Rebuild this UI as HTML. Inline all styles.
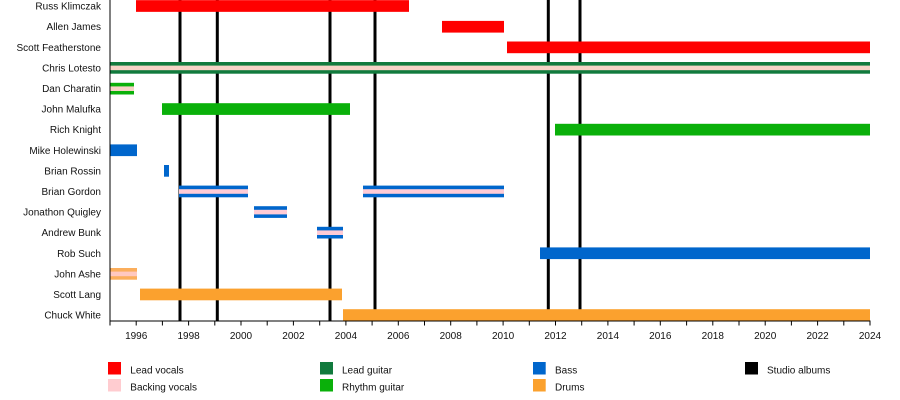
<!DOCTYPE html>
<html>
<head>
<meta charset="utf-8">
<style>
  html,body{margin:0;padding:0;background:#fff;}
  svg{display:block;}
  text{font-family:"Liberation Sans", Arial, sans-serif;font-size:10px;fill:#111;}
</style>
</head>
<body>
<svg width="900" height="400" viewBox="0 0 900 400" xmlns="http://www.w3.org/2000/svg">
  <rect width="900" height="400" fill="#fff"/>

  <!-- studio album lines (behind bars) -->
  <g fill="#000">
    <rect x="178.5" y="0" width="3" height="321"/>
    <rect x="215.8" y="0" width="3" height="321"/>
    <rect x="328.5" y="0" width="3" height="321"/>
    <rect x="373.5" y="0" width="3" height="321"/>
    <rect x="546.8" y="0" width="3" height="321"/>
    <rect x="578.5" y="0" width="3" height="321"/>
  </g>

  <!-- bars -->
  <!-- Russ Klimczak c=6 -->
  <rect x="136" y="0.15" width="273" height="11.7" fill="#FF0000"/>
  <!-- Allen James c=26.6 -->
  <rect x="442" y="20.9" width="62" height="11.7" fill="#FF0000"/>
  <!-- Scott Featherstone c=47.2 -->
  <rect x="507" y="41.5" width="363" height="11.7" fill="#FF0000"/>
  <!-- Chris Lotesto c=67.8 -->
  <rect x="110" y="62.0" width="760" height="11.7" fill="#117A3D"/>
  <rect x="110" y="65.6" width="760" height="4.6" fill="#F6D3C6"/>
  <!-- Dan Charatin c=88.4 -->
  <rect x="110" y="82.8" width="24" height="11.7" fill="#0AB00A"/>
  <rect x="110" y="86.4" width="24" height="4.6" fill="#F6D3C6"/>
  <!-- John Malufka c=109 -->
  <rect x="162" y="103.2" width="188" height="11.7" fill="#0AB00A"/>
  <!-- Rich Knight c=129.6 -->
  <rect x="555" y="123.8" width="315" height="11.7" fill="#0AB00A"/>
  <!-- Mike Holewinski c=150.2 -->
  <rect x="110" y="144.4" width="27" height="11.7" fill="#0066CC"/>
  <!-- Brian Rossin c=170.8 -->
  <rect x="164" y="165.0" width="5" height="11.7" fill="#0066CC"/>
  <!-- Brian Gordon c=191.4 -->
  <rect x="179" y="185.6" width="69" height="11.7" fill="#0066CC"/>
  <rect x="179" y="189.2" width="69" height="4.6" fill="#FFCCD6"/>
  <rect x="363" y="185.6" width="141" height="11.7" fill="#0066CC"/>
  <rect x="363" y="189.2" width="141" height="4.6" fill="#FFCCD6"/>
  <!-- Jonathon Quigley c=212 -->
  <rect x="254" y="206.2" width="33" height="11.7" fill="#0066CC"/>
  <rect x="254" y="209.8" width="33" height="4.6" fill="#FFCCD6"/>
  <!-- Andrew Bunk c=232.6 -->
  <rect x="317" y="226.8" width="26" height="11.7" fill="#0066CC"/>
  <rect x="317" y="230.4" width="26" height="4.6" fill="#FFCCD6"/>
  <!-- Rob Such c=253.2 -->
  <rect x="540" y="247.4" width="330" height="11.7" fill="#0066CC"/>
  <!-- John Ashe c=273.8 -->
  <rect x="110" y="268.0" width="27" height="11.7" fill="#FBAE5C"/>
  <rect x="110" y="271.6" width="27" height="4.6" fill="#FFC8C0"/>
  <!-- Scott Lang c=294.4 -->
  <rect x="140" y="288.6" width="202" height="11.7" fill="#FBA12E"/>
  <!-- Chuck White c=315 -->
  <rect x="343" y="309.2" width="527" height="11.7" fill="#FBA12E"/>

  <!-- axes -->
  <rect x="109.5" y="0" width="1" height="321.5" fill="#000"/>
  <rect x="109.5" y="320.5" width="761" height="1" fill="#000"/>
  <g stroke="#000" stroke-width="1">
    <line x1="110" y1="321" x2="110" y2="325.5"/>
    <line x1="136.2" y1="321" x2="136.2" y2="325.5"/>
    <line x1="162.4" y1="321" x2="162.4" y2="325.5"/>
    <line x1="188.6" y1="321" x2="188.6" y2="325.5"/>
    <line x1="214.8" y1="321" x2="214.8" y2="325.5"/>
    <line x1="241.0" y1="321" x2="241.0" y2="325.5"/>
    <line x1="267.2" y1="321" x2="267.2" y2="325.5"/>
    <line x1="293.4" y1="321" x2="293.4" y2="325.5"/>
    <line x1="319.7" y1="321" x2="319.7" y2="325.5"/>
    <line x1="345.9" y1="321" x2="345.9" y2="325.5"/>
    <line x1="372.1" y1="321" x2="372.1" y2="325.5"/>
    <line x1="398.3" y1="321" x2="398.3" y2="325.5"/>
    <line x1="424.5" y1="321" x2="424.5" y2="325.5"/>
    <line x1="450.7" y1="321" x2="450.7" y2="325.5"/>
    <line x1="476.9" y1="321" x2="476.9" y2="325.5"/>
    <line x1="503.1" y1="321" x2="503.1" y2="325.5"/>
    <line x1="529.3" y1="321" x2="529.3" y2="325.5"/>
    <line x1="555.5" y1="321" x2="555.5" y2="325.5"/>
    <line x1="581.7" y1="321" x2="581.7" y2="325.5"/>
    <line x1="607.9" y1="321" x2="607.9" y2="325.5"/>
    <line x1="634.1" y1="321" x2="634.1" y2="325.5"/>
    <line x1="660.3" y1="321" x2="660.3" y2="325.5"/>
    <line x1="686.6" y1="321" x2="686.6" y2="325.5"/>
    <line x1="712.8" y1="321" x2="712.8" y2="325.5"/>
    <line x1="739.0" y1="321" x2="739.0" y2="325.5"/>
    <line x1="765.2" y1="321" x2="765.2" y2="325.5"/>
    <line x1="791.4" y1="321" x2="791.4" y2="325.5"/>
    <line x1="817.6" y1="321" x2="817.6" y2="325.5"/>
    <line x1="843.8" y1="321" x2="843.8" y2="325.5"/>
    <line x1="870" y1="321" x2="870" y2="325.5"/>
  </g>

  <!-- tick labels -->
  <g text-anchor="middle">
    <text x="136.2" y="339">1996</text>
    <text x="188.6" y="339">1998</text>
    <text x="241.0" y="339">2000</text>
    <text x="293.4" y="339">2002</text>
    <text x="345.9" y="339">2004</text>
    <text x="398.3" y="339">2006</text>
    <text x="450.7" y="339">2008</text>
    <text x="503.1" y="339">2010</text>
    <text x="555.5" y="339">2012</text>
    <text x="607.9" y="339">2014</text>
    <text x="660.3" y="339">2016</text>
    <text x="712.8" y="339">2018</text>
    <text x="765.2" y="339">2020</text>
    <text x="817.6" y="339">2022</text>
    <text x="870" y="339">2024</text>
  </g>

  <!-- row labels -->
  <g text-anchor="end">
    <text x="101" y="9.6">Russ Klimczak</text>
    <text x="101" y="30.2">Allen James</text>
    <text x="101" y="50.8">Scott Featherstone</text>
    <text x="101" y="71.4">Chris Lotesto</text>
    <text x="101" y="92.0">Dan Charatin</text>
    <text x="101" y="112.6">John Malufka</text>
    <text x="101" y="133.2">Rich Knight</text>
    <text x="101" y="153.8">Mike Holewinski</text>
    <text x="101" y="174.4">Brian Rossin</text>
    <text x="101" y="195.0">Brian Gordon</text>
    <text x="101" y="215.6">Jonathon Quigley</text>
    <text x="101" y="236.2">Andrew Bunk</text>
    <text x="101" y="256.8">Rob Such</text>
    <text x="101" y="277.4">John Ashe</text>
    <text x="101" y="298.0">Scott Lang</text>
    <text x="101" y="318.6">Chuck White</text>
  </g>

  <!-- legend -->
  <rect x="108" y="362" width="13" height="12.5" fill="#FF0000"/>
  <text x="130.3" y="373.5">Lead vocals</text>
  <rect x="108" y="379" width="13" height="12.5" fill="#FFCCD0"/>
  <text x="130.3" y="390.5">Backing vocals</text>

  <rect x="320" y="362" width="13" height="12.5" fill="#117A3D"/>
  <text x="342" y="373.5">Lead guitar</text>
  <rect x="320" y="379" width="13" height="12.5" fill="#0AB00A"/>
  <text x="342" y="390.5">Rhythm guitar</text>

  <rect x="533" y="362" width="12.7" height="12.5" fill="#0066CC"/>
  <text x="555" y="373.5">Bass</text>
  <rect x="533" y="379" width="12.7" height="12.5" fill="#FBA12E"/>
  <text x="555" y="390.5">Drums</text>

  <rect x="745" y="362" width="13" height="12.5" fill="#000"/>
  <text x="767" y="373.5">Studio albums</text>
</svg>
</body>
</html>
